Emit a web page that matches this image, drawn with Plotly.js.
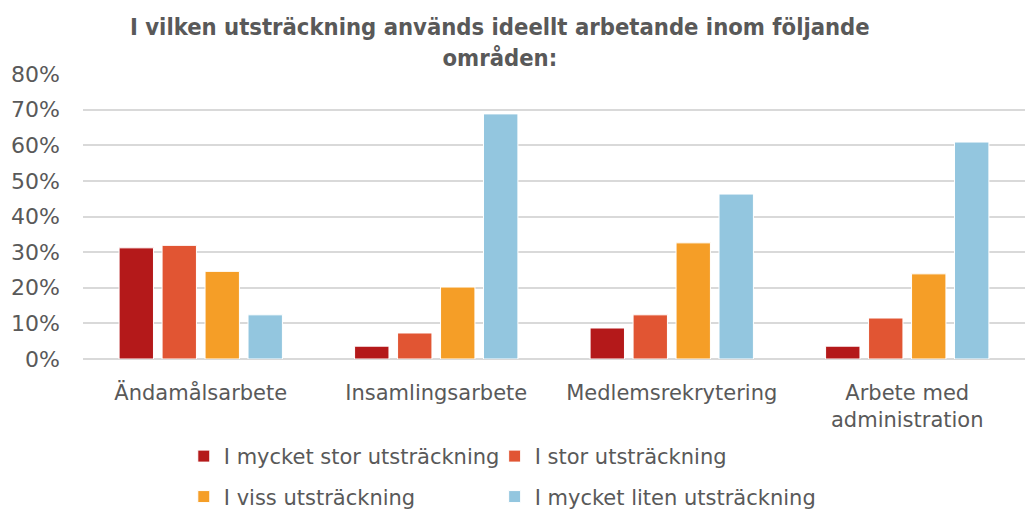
<!DOCTYPE html>
<html>
<head>
<meta charset="utf-8">
<script src="https://cdn.plot.ly/plotly-3.0.1.min.js"></script>
<style>html,body{margin:0;padding:0;background:#fff;}#chart{width:1025px;height:513px;}</style>
</head>
<body>
<div id="chart"></div>
<script>
const categories = ["Ändamålsarbete", "Insamlingsarbete", "Medlemsrekrytering", "Arbete med<br>administration"];
const seriesNames = ["I mycket stor utsträckning", "I stor utsträckning", "I viss utsträckning", "I mycket liten utsträckning"];
const veryLarge = [0.312, 0.036, 0.087, 0.036];
const large = [0.319, 0.073, 0.124, 0.115];
const some = [0.246, 0.202, 0.326, 0.239];
const verySmall = [0.124, 0.688, 0.463, 0.609];
const colors = ["#B4191A", "#E15533", "#F59E27", "#93C6DF"];
const tickVals = [0, 0.1, 0.2, 0.3, 0.4, 0.5, 0.6, 0.7, 0.8];
const titleText = "<b>I vilken utsträckning används ideellt arbetande inom följande<br>områden:</b>";

const values = [veryLarge, large, some, verySmall];
const legendIds = ["legend", "legend2", "legend3", "legend4"];
const traces = values.map((v, i) => ({
  type: "bar",
  name: seriesNames[i],
  x: categories,
  y: v,
  legend: legendIds[i],
  marker: {color: colors[i], line: {color: "#ffffff", width: 1}},
  hoverinfo: "none"
}));

const font = "DejaVu Sans Condensed, DejaVu Sans, sans-serif";
const legendFont = {family: "DejaVu Sans, sans-serif", size: 21, color: "#595959"};
const legendPos = [[0.107, -0.342], [0.437, -0.342], [0.107, -0.484], [0.437, -0.484]];
const layout = {
  width: 1025, height: 513,
  margin: {l: 83, r: 0, t: 74, b: 154, autoexpand: false},
  paper_bgcolor: "#fff", plot_bgcolor: "#fff",
  barmode: "group", bargap: 0.27, bargroupgap: 0.2,
  annotations: [{
    text: titleText, showarrow: false,
    xref: "paper", yref: "paper", x: 0.4427, y: 1.112, xanchor: "center", yanchor: "middle",
    font: {family: font, size: 23.6, color: "#595959"}
  }],
  xaxis: {
    tickfont: {family: "DejaVu Sans, sans-serif", size: 21, color: "#595959"},
    showline: false, ticks: "", fixedrange: true, ticklabelstandoff: 19
  },
  yaxis: {
    range: [0, 0.8], tickvals: tickVals, tickformat: ".0%",
    tickfont: {family: "DejaVu Sans, sans-serif", size: 22, color: "#595959"},
    gridcolor: "#D9D9D9", gridwidth: 2, zeroline: true, zerolinecolor: "#D9D9D9", zerolinewidth: 2,
    showline: false, ticks: "", ticklen: 0, fixedrange: true, ticklabelstandoff: 22
  },
  showlegend: true
};
legendIds.forEach((id, i) => {
  layout[id] = {
    orientation: "h", x: legendPos[i][0], xanchor: "left", y: legendPos[i][1], yanchor: "middle",
    font: legendFont, itemwidth: 30, bgcolor: "rgba(0,0,0,0)"
  };
});
Plotly.newPlot("chart", traces, layout, {displayModeBar: false, staticPlot: true});
</script>
</body>
</html>
